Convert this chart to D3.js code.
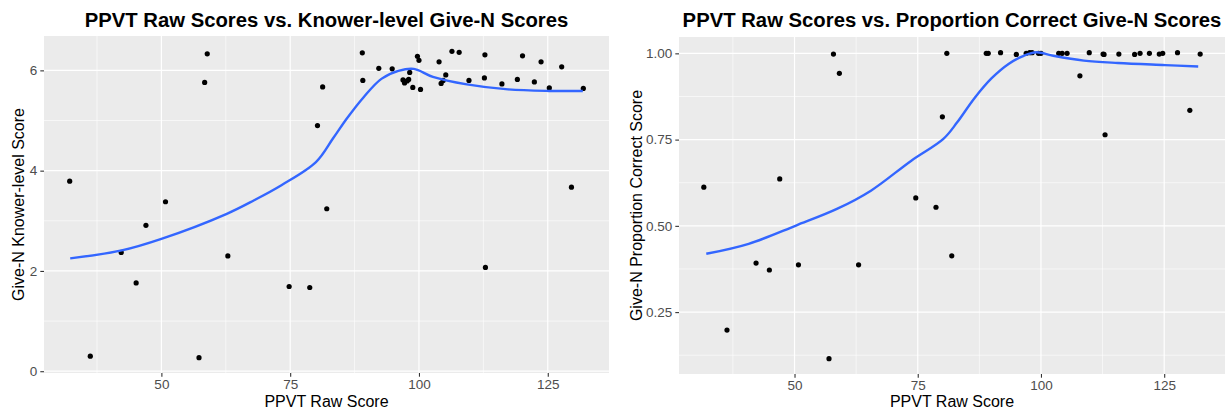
<!DOCTYPE html>
<html>
<head>
<meta charset="utf-8">
<script src="https://cdn.jsdelivr.net/npm/d3@7"></script>
<style>
  html, body { margin: 0; padding: 0; background: #ffffff; }
  svg { display: block; font-family: "Liberation Sans", Arial, Helvetica, sans-serif; }
</style>
</head>
<body>
<svg id="chart" width="1228" height="410"></svg>
<script>
// ---------- data ----------
const xTicks = [50, 75, 100, 125];
const leftYTicks = [0, 2, 4, 6];
const rightYTicks = [0.25, 0.50, 0.75, 1.00];
const rightYTickLabels = ["0.25", "0.50", "0.75", "1.00"];

// Left panel: PPVT raw score vs knower-level
const leftX = [32.2, 58.9, 58.4, 50.8, 42.2, 47.0, 45.1, 36.2, 57.3, 62.9, 74.8, 78.8, 82.1, 112.9,
  89.0, 89.1, 81.3, 80.3, 92.2, 94.8, 96.9, 97.2, 97.7, 98.0, 98.2, 98.8, 99.7, 100.0, 100.3,
  103.9, 104.3, 104.7, 105.2, 106.4, 107.8, 109.7, 112.7, 112.8, 116.1, 119.1, 120.1, 122.4,
  123.7, 125.3, 127.7, 131.9, 129.6];
const leftY = [3.79, 6.33, 5.76, 3.38, 2.37, 2.91, 1.76, 0.30, 0.27, 2.30, 1.69, 1.67, 3.24, 2.07,
  6.35, 5.80, 5.67, 4.90, 6.04, 6.03, 5.81, 5.75, 5.79, 5.82, 5.96, 5.66, 6.28, 6.20, 5.62,
  6.17, 5.74, 5.80, 5.91, 6.38, 6.36, 5.80, 5.85, 6.31, 5.73, 5.82, 6.29, 5.77,
  6.17, 5.65, 6.07, 5.64, 3.67];
const leftCurveX = [32.3, 42.3, 50.0, 62.7, 68.0, 73.3, 80.0, 83.3, 86.0, 89.3, 92.7, 96.0, 99.0, 102.7, 109.3, 117.3, 125.3, 131.8];
const leftCurveY = [2.25, 2.41, 2.64, 3.14, 3.41, 3.71, 4.17, 4.64, 5.04, 5.47, 5.83, 5.99, 6.03, 5.87, 5.72, 5.62, 5.59, 5.59];

// Right panel: PPVT raw score vs proportion correct
const rightX = [31.6, 47.0, 57.9, 59.1, 74.6, 78.7, 80.0, 80.9, 81.9, 42.2, 44.9, 50.8, 63.0, 36.3, 57.0,
  88.9, 89.3, 91.8, 95.0, 97.0, 97.7, 98.2, 99.5, 100.0, 103.6, 104.3, 105.3, 107.9, 109.8,
  112.6, 112.8, 113.0, 115.8, 119.0, 120.1, 122.0, 124.0, 124.7, 127.7, 130.2, 132.3];
const rightY = [0.612, 0.636, 0.998, 0.942, 0.581, 0.554, 0.816, 1.000, 0.413, 0.392, 0.372, 0.387, 0.387, 0.198, 0.115,
  1.000, 1.000, 1.002, 0.997, 1.000, 1.002, 1.002, 1.000, 1.000, 1.000, 1.000, 1.000, 0.935, 1.002,
  0.998, 0.997, 0.764, 0.998, 0.997, 1.000, 1.000, 0.998, 1.000, 1.002, 0.835, 0.998];
const rightCurveX = [32.1, 40.7, 50.3, 58.6, 65.5, 73.7, 80.2, 83.0, 86.5, 90.0, 93.5, 96.5, 99.1, 102.5, 108.7, 115.6, 125.2, 131.9];
const rightCurveY = [0.419, 0.448, 0.501, 0.549, 0.602, 0.689, 0.752, 0.800, 0.870, 0.928, 0.970, 0.993, 1.003, 0.993, 0.979, 0.972, 0.966, 0.962];

// ---------- drawing ----------
const svg = d3.select("#chart");

function expand(ext) {
  const pad = (ext[1] - ext[0]) * 0.05;
  return [ext[0] - pad, ext[1] + pad];
}

function panel(cfg) {
  const g = svg.append("g");
  const xs = cfg.x.concat(cfg.cx), ys = cfg.y.concat(cfg.cy);
  const x = d3.scaleLinear().domain(expand(d3.extent(xs))).range([cfg.left, cfg.right]);
  const y = d3.scaleLinear().domain(expand(d3.extent(ys))).range([cfg.bottom, cfg.top]);

  // background
  g.append("rect").attr("x", cfg.left).attr("y", cfg.top)
    .attr("width", cfg.right - cfg.left).attr("height", cfg.bottom - cfg.top)
    .attr("fill", "#EBEBEB");

  // minor grid
  const xMinor = [];
  for (let i = 0; i < xTicks.length + 1; i++) {
    const v = (i === 0 ? xTicks[0] - 12.5 : xTicks[i - 1] + 12.5);
    xMinor.push(v);
  }
  const yMinor = [];
  const step = cfg.yTicks[1] - cfg.yTicks[0];
  yMinor.push(cfg.yTicks[0] - step / 2);
  cfg.yTicks.forEach(t => yMinor.push(t + step / 2));

  const xd = x.domain(), yd = y.domain();
  g.selectAll(".xminor").data(xMinor.filter(v => v > xd[0] && v < xd[1])).enter().append("line")
    .attr("x1", d => x(d)).attr("x2", d => x(d)).attr("y1", cfg.top).attr("y2", cfg.bottom)
    .attr("stroke", "#ffffff").attr("stroke-width", 0.6);
  g.selectAll(".yminor").data(yMinor.filter(v => v > yd[0] && v < yd[1])).enter().append("line")
    .attr("y1", d => y(d)).attr("y2", d => y(d)).attr("x1", cfg.left).attr("x2", cfg.right)
    .attr("stroke", "#ffffff").attr("stroke-width", 0.6);
  // major grid
  g.selectAll(".xmajor").data(xTicks).enter().append("line")
    .attr("x1", d => x(d)).attr("x2", d => x(d)).attr("y1", cfg.top).attr("y2", cfg.bottom)
    .attr("stroke", "#ffffff").attr("stroke-width", 1.2);
  g.selectAll(".ymajor").data(cfg.yTicks).enter().append("line")
    .attr("y1", d => y(d)).attr("y2", d => y(d)).attr("x1", cfg.left).attr("x2", cfg.right)
    .attr("stroke", "#ffffff").attr("stroke-width", 1.2);

  // axes
  const xAxis = d3.axisBottom(x).tickValues(xTicks).tickSize(3.7).tickPadding(3);
  const gx = g.append("g").attr("transform", `translate(0,${cfg.bottom})`).call(xAxis);
  const yAxis = d3.axisLeft(y).tickValues(cfg.yTicks).tickFormat((d, i) => cfg.yLabels[i]).tickSize(3.7).tickPadding(3);
  const gy = g.append("g").attr("transform", `translate(${cfg.left},0)`).call(yAxis);
  [gx, gy].forEach(a => {
    a.select(".domain").remove();
    a.selectAll(".tick line").attr("stroke", "#333333").attr("stroke-width", 1.1);
    a.selectAll(".tick text").attr("fill", "#4D4D4D").style("font-size", "13.5px")
      .style("font-family", "'Liberation Sans', Arial, sans-serif");
  });

  // points
  const pts = cfg.x.map((v, i) => [v, cfg.y[i]]);
  g.selectAll(".pt").data(pts).enter().append("circle")
    .attr("cx", d => x(d[0])).attr("cy", d => y(d[1])).attr("r", 2.6).attr("fill", "#000000");

  // smooth curve
  const curve = cfg.cx.map((v, i) => [v, cfg.cy[i]]);
  g.append("path").datum(curve)
    .attr("d", d3.line().x(d => x(d[0])).y(d => y(d[1])).curve(d3.curveCatmullRom.alpha(0.5)))
    .attr("fill", "none").attr("stroke", "#3366FF").attr("stroke-width", 2.4);

  // titles
  const cx = (cfg.left + cfg.right) / 2;
  g.append("text").attr("x", cx).attr("y", 26.5).attr("text-anchor", "middle")
    .style("font-size", "20.3px").style("font-weight", "bold").attr("fill", "#000000")
    .text(cfg.title);
  g.append("text").attr("x", cx).attr("y", 407).attr("text-anchor", "middle")
    .style("font-size", "16px").attr("fill", "#000000").text("PPVT Raw Score");
  const cy = (cfg.top + cfg.bottom) / 2;
  g.append("text").attr("transform", `translate(${cfg.ytx},${cy}) rotate(-90)`)
    .attr("text-anchor", "middle").style("font-size", "16px").attr("fill", "#000000")
    .text(cfg.ytitle);
}

panel({
  left: 44, right: 609, top: 36, bottom: 373,
  x: leftX, y: leftY, cx: leftCurveX, cy: leftCurveY,
  yTicks: leftYTicks, yLabels: leftYTicks.map(String),
  title: "PPVT Raw Scores vs. Knower-level Give-N Scores",
  ytitle: "Give-N Knower-level Score", ytx: 23.5
});
panel({
  left: 679, right: 1225, top: 37, bottom: 374,
  x: rightX, y: rightY, cx: rightCurveX, cy: rightCurveY,
  yTicks: rightYTicks, yLabels: rightYTickLabels,
  title: "PPVT Raw Scores vs. Proportion Correct Give-N Scores",
  ytitle: "Give-N Proportion Correct Score", ytx: 641.5
});
</script>
</body>
</html>
